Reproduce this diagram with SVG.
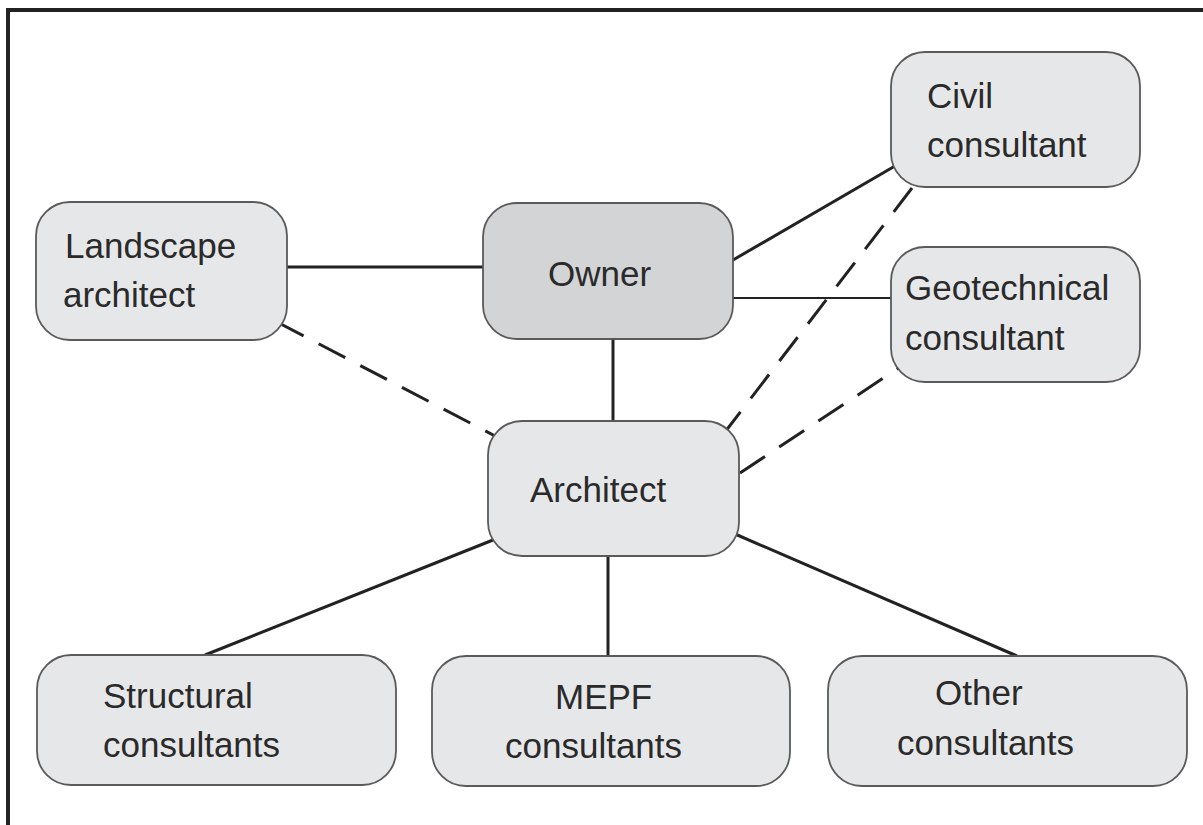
<svg xmlns="http://www.w3.org/2000/svg" width="1203" height="825" viewBox="0 0 1203 825">
<style>
.box{fill:#e6e7e9;stroke:#5a5a5a;stroke-width:1.8}
.owner{fill:#d3d4d6}
.t{font-family:"Liberation Sans",Arial,sans-serif;font-size:35px;fill:#2a2a2a}
.c{stroke:#222;stroke-width:3;fill:none}
.thin{stroke-width:2}
.d{stroke-dasharray:30 17}
</style>
<rect width="1203" height="825" fill="#fff"/>
<path d="M8,825 V10 H1203" fill="none" stroke="#222" stroke-width="4"/>
<g id="connectors">
<line class="c" x1="287" y1="267" x2="483" y2="267"/>
<line class="c" x1="733" y1="260" x2="895" y2="166"/>
<line class="c thin" x1="733" y1="298" x2="891" y2="298"/>
<line class="c" x1="613" y1="339" x2="613" y2="421"/>
<line class="c d" x1="277" y1="322" x2="497" y2="437"/>
<line class="c d" x1="912" y1="188" x2="725" y2="432"/>
<line class="c d" x1="740" y1="473" x2="900" y2="367" stroke-dasharray="34 20"/>
<line class="c" x1="493" y1="540" x2="205" y2="655"/>
<line class="c" x1="608" y1="556" x2="608" y2="656"/>
<line class="c" x1="735" y1="534" x2="1017" y2="656"/>
</g>
<g id="landscape">
<rect class="box" x="36" y="202" width="251" height="138" rx="34"/>
<text class="t" x="65" y="258">Landscape</text>
<text class="t" x="63" y="307">architect</text>
</g>
<g id="owner">
<rect class="box owner" x="483" y="203" width="250" height="136" rx="34"/>
<text class="t" x="548" y="286">Owner</text>
</g>
<g id="civil">
<rect class="box" x="891" y="52" width="249" height="135" rx="34"/>
<text class="t" x="927" y="108">Civil</text>
<text class="t" x="927" y="157">consultant</text>
</g>
<g id="geotechnical">
<rect class="box" x="891" y="247" width="249" height="135" rx="34"/>
<text class="t" x="905" y="300">Geotechnical</text>
<text class="t" x="905" y="350">consultant</text>
</g>
<g id="architect">
<rect class="box" x="488" y="421" width="251" height="135" rx="34"/>
<text class="t" x="530" y="502">Architect</text>
</g>
<g id="structural">
<rect class="box" x="37" y="655" width="359" height="130" rx="34"/>
<text class="t" x="103" y="708">Structural</text>
<text class="t" x="103" y="757">consultants</text>
</g>
<g id="mepf">
<rect class="box" x="432" y="656" width="358" height="130" rx="34"/>
<text class="t" x="555" y="709">MEPF</text>
<text class="t" x="505" y="758">consultants</text>
</g>
<g id="other">
<rect class="box" x="828" y="656" width="359" height="130" rx="34"/>
<text class="t" x="935" y="705">Other</text>
<text class="t" x="897" y="755">consultants</text>
</g>
</svg>
